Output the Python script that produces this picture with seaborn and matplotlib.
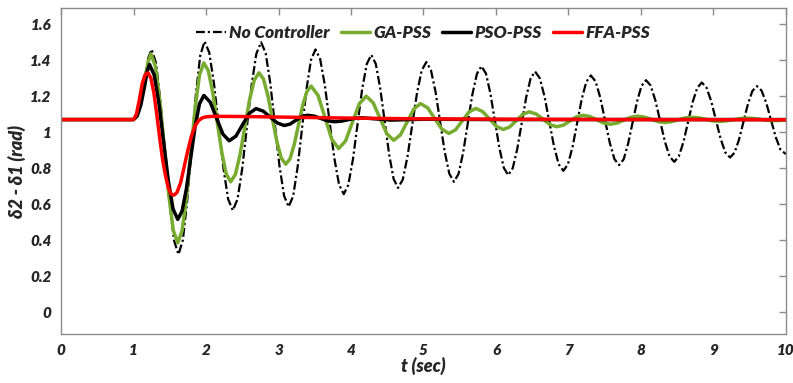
import pandas as pd
import seaborn as sns
import matplotlib.pyplot as plt

# No Controller
t_nc = [0, 1.0, 1.05, 1.10, 1.15, 1.20, 1.25,
        1.31, 1.37, 1.435, 1.497, 1.56, 1.62,
        1.68, 1.74, 1.80, 1.86, 1.92, 1.98,
        2.045, 2.11, 2.175, 2.24, 2.305, 2.37,
        2.435, 2.50, 2.565, 2.63, 2.695, 2.76,
        2.823, 2.887, 2.95, 3.013, 3.077, 3.14,
        3.202, 3.263, 3.325, 3.387, 3.448, 3.51,
        3.575, 3.64, 3.705, 3.77, 3.835, 3.90,
        3.963, 4.027, 4.09, 4.153, 4.217, 4.28,
        4.342, 4.403, 4.465, 4.527, 4.588, 4.65,
        4.715, 4.78, 4.845, 4.91, 4.975, 5.04,
        5.103, 5.167, 5.23, 5.293, 5.357, 5.42,
        5.483, 5.547, 5.61, 5.673, 5.737, 5.80,
        5.862, 5.923, 5.985, 6.047, 6.108, 6.17,
        6.232, 6.293, 6.355, 6.417, 6.478, 6.54,
        6.605, 6.67, 6.735, 6.80, 6.865, 6.93,
        6.993, 7.057, 7.12, 7.183, 7.247, 7.31,
        7.375, 7.44, 7.505, 7.57, 7.635, 7.70,
        7.762, 7.823, 7.885, 7.947, 8.008, 8.07,
        8.135, 8.20, 8.265, 8.33, 8.395, 8.46,
        8.523, 8.587, 8.65, 8.713, 8.777, 8.84,
        8.905, 8.97, 9.035, 9.10, 9.165, 9.23,
        9.292, 9.353, 9.415, 9.477, 9.538, 9.60,
        9.665, 9.73, 9.795, 9.86, 9.925, 10.0]
y_nc = [1.07, 1.07, 1.09, 1.17, 1.29, 1.41, 1.46,
        1.384, 1.175, 0.89, 0.605, 0.396, 0.32,
        0.399, 0.616, 0.913, 1.209, 1.426, 1.505,
        1.442, 1.27, 1.035, 0.80, 0.628, 0.565,
        0.628, 0.799, 1.033, 1.266, 1.437, 1.50,
        1.439, 1.271, 1.043, 0.814, 0.646, 0.585,
        0.644, 0.804, 1.023, 1.241, 1.401, 1.46,
        1.406, 1.259, 1.058, 0.856, 0.709, 0.655,
        0.707, 0.849, 1.043, 1.236, 1.378, 1.43,
        1.38, 1.245, 1.06, 0.875, 0.74, 0.69,
        0.737, 0.865, 1.04, 1.215, 1.343, 1.39,
        1.345, 1.224, 1.057, 0.891, 0.769, 0.724,
        0.767, 0.885, 1.046, 1.206, 1.324, 1.367,
        1.326, 1.216, 1.064, 0.913, 0.802, 0.761,
        0.80, 0.905, 1.049, 1.193, 1.298, 1.337,
        1.30, 1.199, 1.061, 0.923, 0.822, 0.785,
        0.821, 0.918, 1.05, 1.183, 1.28, 1.315,
        1.282, 1.191, 1.066, 0.942, 0.85, 0.817,
        0.849, 0.935, 1.053, 1.171, 1.257, 1.289,
        1.259, 1.176, 1.062, 0.949, 0.865, 0.835,
        0.865, 0.945, 1.056, 1.166, 1.246, 1.276,
        1.248, 1.172, 1.068, 0.963, 0.887, 0.859,
        0.886, 0.958, 1.058, 1.157, 1.229, 1.256,
        1.231, 1.162, 1.067, 0.973, 0.903, 0.878]

# GA-PSS
t_ga = [0, 1.0, 1.05, 1.10, 1.15, 1.20, 1.24,
        1.302, 1.363, 1.425, 1.487, 1.548, 1.61,
        1.67, 1.73, 1.79, 1.85, 1.91, 1.97,
        2.032, 2.093, 2.155, 2.217, 2.278, 2.34,
        2.405, 2.47, 2.535, 2.60, 2.665, 2.73,
        2.792, 2.853, 2.915, 2.977, 3.038, 3.10,
        3.158, 3.217, 3.275, 3.333, 3.392, 3.45,
        3.545, 3.64, 3.735, 3.83,
        3.925, 4.02, 4.115, 4.21,
        4.305, 4.40, 4.495, 4.59,
        4.683, 4.775, 4.868, 4.96,
        5.058, 5.155, 5.253, 5.35,
        5.443, 5.535, 5.628, 5.72,
        5.815, 5.91, 6.005, 6.10,
        6.19, 6.28, 6.37, 6.46,
        6.555, 6.65, 6.745, 6.84,
        6.93, 7.02, 7.11, 7.20,
        7.295, 7.39, 7.485, 7.58,
        7.673, 7.765, 7.858, 7.95,
        8.045, 8.14, 8.235, 8.33,
        8.423, 8.515, 8.608, 8.70,
        8.795, 8.89, 8.985, 9.08,
        9.175, 9.27, 9.365, 9.46,
        9.555, 9.65, 9.745, 9.84, 10.0]
y_ga = [1.07, 1.07, 1.09, 1.16, 1.27, 1.39, 1.435,
        1.365, 1.173, 0.91, 0.648, 0.455, 0.385,
        0.452, 0.635, 0.885, 1.135, 1.318, 1.385,
        1.341, 1.22, 1.055, 0.889, 0.768, 0.724,
        0.765, 0.876, 1.027, 1.179, 1.289, 1.33,
        1.296, 1.203, 1.076, 0.949, 0.856, 0.822,
        0.851, 0.931, 1.039, 1.148, 1.227, 1.256,
        1.205, 1.083, 0.96, 0.909,
        0.951, 1.055, 1.158, 1.20,
        1.164, 1.078, 0.991, 0.955,
        0.985, 1.057, 1.129, 1.159,
        1.135, 1.076, 1.017, 0.993,
        1.013, 1.063, 1.112, 1.132,
        1.115, 1.074, 1.032, 1.015,
        1.029, 1.064, 1.099, 1.113,
        1.101, 1.072, 1.042, 1.03,
        1.039, 1.062, 1.085, 1.094,
        1.087, 1.069, 1.051, 1.044,
        1.051, 1.067, 1.082, 1.089,
        1.084, 1.072, 1.059, 1.054,
        1.058, 1.069, 1.079, 1.083,
        1.08, 1.072, 1.063, 1.06,
        1.063, 1.069, 1.075, 1.078,
        1.076, 1.071, 1.066, 1.064, 1.067]

# PSO-PSS
t_pso = [0, 1.0, 1.05, 1.10, 1.15, 1.19, 1.22,
         1.285, 1.35, 1.415, 1.48, 1.545, 1.61,
         1.67, 1.73, 1.79, 1.85, 1.91, 1.97,
         2.058, 2.145, 2.233, 2.32,
         2.413, 2.505, 2.598, 2.69,
         2.788, 2.885, 2.983, 3.08,
         3.16, 3.24, 3.32, 3.40,
         3.493, 3.585, 3.678, 3.77,
         3.865, 3.96, 4.055, 4.15,
         4.55, 5.0, 6.0, 10.0]
y_pso = [1.07, 1.07, 1.09, 1.15, 1.25, 1.34, 1.376,
         1.318, 1.161, 0.946, 0.73, 0.573, 0.515,
         0.561, 0.687, 0.86, 1.032, 1.158, 1.204,
         1.167, 1.078, 0.989, 0.952,
         0.978, 1.042, 1.105, 1.131,
         1.117, 1.084, 1.051, 1.037,
         1.045, 1.066, 1.086, 1.094,
         1.089, 1.076, 1.063, 1.058,
         1.061, 1.069, 1.077, 1.08,
         1.067, 1.072, 1.07, 1.07]

# FFA-PSS
t_ffa = [0, 1.0, 1.04, 1.08, 1.12, 1.16, 1.20, 1.24, 1.28, 1.32, 1.36,
         1.40, 1.44, 1.48, 1.52, 1.56, 1.60, 1.65, 1.70, 1.75, 1.80,
         1.85, 1.90, 1.95, 2.0, 2.1, 2.5, 3.0, 4.0, 5.0, 6.0, 8.0, 10.0]
y_ffa = [1.07, 1.07, 1.10, 1.18, 1.27, 1.32, 1.33, 1.30, 1.22, 1.10, 0.97,
         0.85, 0.76, 0.69, 0.655, 0.65, 0.665, 0.72, 0.81, 0.90, 0.98,
         1.035, 1.065, 1.08, 1.085, 1.088, 1.087, 1.084, 1.078, 1.074,
         1.072, 1.07, 1.069]

x_ticks = [0, 1, 2, 3, 4, 5, 6, 7, 8, 9, 10]
y_ticks = [0, 0.2, 0.4, 0.6, 0.8, 1, 1.2, 1.4, 1.6]
y_tick_labels = ['0', '0.2', '0.4', '0.6', '0.8', '1', '1.2', '1.4', '1.6']

sns.set_style('white')
plt.rcParams['font.family'] = ['Lato', 'DejaVu Sans']

fig = plt.figure(figsize=(7.93, 3.83), dpi=100)
ax = fig.add_axes([0.077, 0.128, 0.914, 0.851])

nc = pd.DataFrame({'t': t_nc, 'y': y_nc})
ga = pd.DataFrame({'t': t_ga, 'y': y_ga})
pso = pd.DataFrame({'t': t_pso, 'y': y_pso})
ffa = pd.DataFrame({'t': t_ffa, 'y': y_ffa})

sns.lineplot(x='t', y='y', data=nc, ax=ax, color='black', lw=1.6,
             linestyle=(0, (4, 1.3, 1, 1.3)), label='No Controller')
sns.lineplot(x='t', y='y', data=ga, ax=ax, color='#77AC30', lw=2.5,
             label='GA-PSS')
sns.lineplot(x='t', y='y', data=pso, ax=ax, color='black', lw=2.5,
             label='PSO-PSS')
sns.lineplot(x='t', y='y', data=ffa, ax=ax, color='#FF0000', lw=2.5,
             label='FFA-PSS')

ax.set_xlim(0, 10)
ax.set_ylim(-0.122, 1.69)
ax.set_xticks(x_ticks)
ax.set_yticks(y_ticks)
ax.set_yticklabels(y_tick_labels)

for s in ax.spines.values():
    s.set_color('#8c8c8c')
    s.set_linewidth(1.0)
ax.tick_params(direction='in', length=5, width=1.0, color='#8c8c8c',
               top=True, right=True, labelsize=11, labelcolor='#262626',
               pad=7)
for lab in ax.get_xticklabels() + ax.get_yticklabels():
    lab.set_fontweight('heavy')
    lab.set_fontstyle('italic')

ax.set_xlabel('t (sec)', fontsize=13, fontweight='heavy', style='italic',
              color='#262626', labelpad=0)
ax.set_ylabel('δ2 - δ1 (rad)', fontsize=13, fontweight='heavy',
              style='italic', color='#262626', labelpad=3)

leg = ax.legend(loc='center', bbox_to_anchor=(0.5, 0.923), ncol=4,
                frameon=False, handlelength=1.7, handletextpad=0.2,
                columnspacing=0.6, borderaxespad=0,
                prop={'size': 12.5, 'weight': 'heavy', 'style': 'italic'})

fig.savefig('out.png', dpi=100)
